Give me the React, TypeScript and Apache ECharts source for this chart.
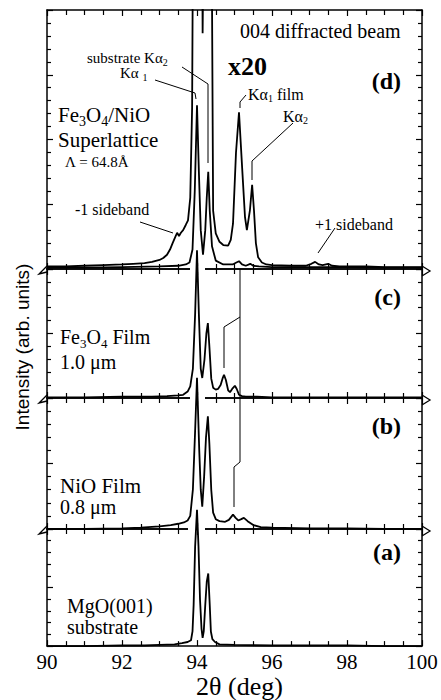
import React, { useEffect, useRef } from 'react';
import * as echarts from 'echarts';

// ---- axis ----
const X_MIN = 90;
const X_MAX = 100;
const X_STEP = 2;

// ---- panel (d): Fe3O4/NiO superlattice, raw scan ----
const dRawX = [90, 91, 92, 93, 93.5, 93.7, 93.8, 93.88, 93.94, 94.0, 94.05, 94.1, 94.16, 94.22, 94.26, 94.3, 94.34, 94.4, 94.5, 94.7, 94.95, 95.05, 95.12, 95.2, 95.3, 95.42, 95.5, 95.65, 96.0, 97.0, 98.0, 99.0, 100];
const dRawY = [0.02, 0.02, 0.03, 0.04, 0.05, 0.07, 0.1, 0.3, 1.2, 2.53, 1.5, 0.6, 0.22, 0.6, 1.1, 1.5, 0.9, 0.35, 0.13, 0.07, 0.07, 0.1, 0.12, 0.07, 0.05, 0.08, 0.05, 0.04, 0.03, 0.03, 0.03, 0.02, 0.02];

// ---- panel (d): same scan magnified x20 ----
const dX20X = [90, 90.5, 91, 91.5, 92, 92.3, 92.6, 92.8, 93.0, 93.1, 93.2, 93.28, 93.35, 93.41, 93.47, 93.52, 93.57, 93.63, 93.7, 93.76, 93.82, 93.87, 93.9, 94.0, 94.08, 94.15, 94.22, 94.3, 94.36, 94.4, 94.43, 94.5, 94.6, 94.7, 94.83, 94.9, 94.96, 95.04, 95.12, 95.2, 95.28, 95.33, 95.41, 95.47, 95.52, 95.57, 95.63, 95.73, 95.85, 96.0, 96.5, 96.9, 97.05, 97.15, 97.25, 97.35, 97.5, 97.6, 97.8, 98.5, 99, 99.5, 100];
const dX20Y = [0.04, 0.04, 0.05, 0.06, 0.07, 0.08, 0.09, 0.11, 0.14, 0.17, 0.22, 0.3, 0.4, 0.48, 0.56, 0.51, 0.56, 0.6, 0.68, 0.75, 1.1, 2.5, 6, 40, 12, 3.64, 8, 25, 8, 4.2, 0.9, 0.55, 0.42, 0.37, 0.36, 0.45, 0.7, 1.8, 2.42, 1.6, 0.8, 0.6, 0.9, 1.3, 0.9, 0.4, 0.18, 0.1, 0.07, 0.06, 0.05, 0.05, 0.08, 0.11, 0.07, 0.06, 0.08, 0.05, 0.04, 0.04, 0.03, 0.03, 0.03];

// ---- panel (c): Fe3O4 film 1.0 um ----
const cX = [90, 91, 92, 92.8, 93.2, 93.5, 93.63, 93.75, 93.82, 93.89, 93.95, 94.0, 94.05, 94.1, 94.14, 94.2, 94.25, 94.29, 94.33, 94.38, 94.43, 94.5, 94.56, 94.63, 94.68, 94.72, 94.77, 94.83, 94.88, 94.95, 95.01, 95.06, 95.12, 95.2, 95.3, 95.6, 96, 97, 98, 99, 100];
const cY = [0.01, 0.01, 0.02, 0.02, 0.03, 0.04, 0.05, 0.1, 0.18, 0.45, 1.3, 2.29, 1.3, 0.45, 0.31, 0.6, 1.0, 1.16, 0.8, 0.3, 0.16, 0.13, 0.14, 0.2, 0.3, 0.36, 0.28, 0.12, 0.09, 0.15, 0.19, 0.14, 0.05, 0.03, 0.02, 0.02, 0.01, 0.01, 0.01, 0.01, 0.01];

// ---- panel (b): NiO film 0.8 um ----
const bX = [90, 91, 92, 92.5, 93, 93.3, 93.5, 93.65, 93.75, 93.82, 93.89, 93.95, 94.0, 94.06, 94.1, 94.14, 94.19, 94.24, 94.29, 94.33, 94.38, 94.43, 94.5, 94.6, 94.75, 94.85, 94.96, 95.03, 95.1, 95.18, 95.25, 95.35, 95.5, 95.7, 96, 97, 98, 99, 100];
const bY = [0.0, 0.0, 0.01, 0.02, 0.04, 0.06, 0.08, 0.1, 0.13, 0.2, 0.6, 1.5, 2.31, 1.2, 0.6, 0.34, 0.8, 1.4, 1.72, 1.3, 0.6, 0.25, 0.15, 0.12, 0.11, 0.14, 0.22, 0.17, 0.13, 0.15, 0.17, 0.12, 0.06, 0.03, 0.02, 0.01, 0.01, 0.0, 0.0];

// ---- panel (a): MgO(001) substrate ----
const aX = [90, 91, 92, 92.6, 93.0, 93.4, 93.6, 93.75, 93.84, 93.88, 93.91, 93.95, 94.0, 94.04, 94.08, 94.12, 94.15, 94.18, 94.22, 94.26, 94.3, 94.34, 94.37, 94.41, 94.48, 94.6, 95, 96, 97, 98, 99, 100];
const aY = [0.0, 0.0, 0.01, 0.01, 0.02, 0.03, 0.05, 0.07, 0.1, 0.25, 0.7, 1.7, 2.33, 1.7, 0.8, 0.3, 0.14, 0.25, 0.7, 1.1, 1.24, 0.7, 0.25, 0.12, 0.07, 0.03, 0.02, 0.01, 0.01, 0.01, 0.0, 0.0];

const SERIF = 'Liberation Serif, Times New Roman, Times, serif';
const SANS = 'Liberation Sans, Arial, Helvetica, sans-serif';

// layout
const PL = 47;
const PR = 422;
const PANELS = [
  { top: 10, height: 259, yMax: 4 },
  { top: 269, height: 129, yMax: 2 },
  { top: 398, height: 131, yMax: 2 },
  { top: 529, height: 126, yMax: 2 },
];

const zip = (xs: number[], ys: number[]) => xs.map((x, i) => [x, ys[i]]);

function buildOption() {
  const grid = PANELS.map((p) => ({ left: PL, width: PR - PL, top: p.top, height: p.height }));
  const tickStyle = { color: '#000', width: 1.2 };
  const lineStyle = { color: '#000', width: 1.5 };
  const xAxis: any[] = [];
  const yAxis: any[] = [];
  PANELS.forEach((p, g) => {
    const last = g === PANELS.length - 1;
    ['bottom', 'top'].forEach((pos) => {
      xAxis.push({
        type: 'value',
        gridIndex: g,
        position: pos,
        min: X_MIN,
        max: X_MAX,
        interval: X_STEP,
        axisLine: { show: true, onZero: false, lineStyle },
        axisTick: { show: true, inside: true, length: 6, lineStyle: tickStyle },
        minorTick: { show: true, splitNumber: 4, length: 5, lineStyle: tickStyle },
        splitLine: { show: false },
        minorSplitLine: { show: false },
        axisLabel: {
          show: last && pos === 'bottom',
          color: '#000',
          fontFamily: SERIF,
          fontSize: 21,
          margin: 5,
        },
        name: last && pos === 'bottom' ? '2θ (deg)' : '',
        nameLocation: 'middle',
        nameGap: 21,
        nameTextStyle: { color: '#000', fontFamily: SERIF, fontSize: 26, padding: [0, 0, 0, 10] },
      });
    });
    ['left', 'right'].forEach((pos) => {
      yAxis.push({
        type: 'value',
        gridIndex: g,
        position: pos,
        min: 0,
        max: p.yMax,
        interval: 1,
        axisLine: { show: true, onZero: false, lineStyle },
        axisTick: { show: true, inside: true, length: 6, lineStyle: tickStyle },
        minorTick: { show: true, splitNumber: 5, length: 4, lineStyle: tickStyle },
        splitLine: { show: false },
        minorSplitLine: { show: false },
        axisLabel: { show: false },
      });
    });
  });

  const curve = (data: number[][], g: number, clip: boolean, name: string) => ({
    type: 'line',
    name,
    xAxisIndex: g * 2,
    yAxisIndex: g * 2,
    data,
    showSymbol: false,
    symbol: 'none',
    clip,
    z: 3,
    lineStyle: { color: '#000', width: 1.8 },
  });

  const series = [
    curve(zip(dRawX, dRawY), 0, true, 'superlattice'),
    curve(zip(dX20X, dX20Y), 0, true, 'superlattice x20'),
    curve(zip(cX, cY), 1, false, 'Fe3O4 film'),
    curve(zip(bX, bY), 2, false, 'NiO film'),
    curve(zip(aX, aY), 3, false, 'MgO substrate'),
  ];

  const txt = (x: number, y: number, text: string, size: number, opts: any = {}) => ({
    type: 'text',
    x,
    y,
    z: 10,
    style: {
      text,
      fill: '#000',
      fontSize: size,
      fontFamily: opts.family || SERIF,
      fontWeight: opts.bold ? 'bold' : 'normal',
      textAlign: opts.align || 'left',
      align: opts.align || 'left',
      textVerticalAlign: 'middle',
      verticalAlign: 'middle',
      rich: opts.rich,
    },
  });
  const sub = (size: number, lh: number) => ({
    n: { fontSize: size, fontFamily: SERIF, lineHeight: lh, color: '#000' },
    s: { fontSize: Math.round(size * 0.65), fontFamily: SERIF, lineHeight: Math.round(size * 0.5), verticalAlign: 'bottom', color: '#000' },
  });
  const poly = (pts: number[][], w = 1) => ({
    type: 'polyline',
    z: 10,
    shape: { points: pts },
    style: { stroke: '#000', lineWidth: w, fill: null },
  });
  const mask = (x: number, y: number, w: number) => ({
    type: 'rect',
    z: 1,
    shape: { x, y: y - 3, width: w, height: 6 },
    style: { fill: '#fff' },
  });

  const graphic: any[] = [
    // masks where peaks pierce the panel boundaries
    mask(190, 269, 15),
    mask(190, 398, 15),
    mask(188, 529, 17),
    // axis breaks
    ...[269, 398, 529].flatMap((b) => [
      poly([[PL, b - 3], [PL - 8, b + 5], [PL, b + 3]], 1.3),
      poly([[PR, b - 3], [PR + 8, b + 2], [PR, b + 7]], 1.3),
    ]),
    // texts
    txt(240, 31, '004 diffracted beam', 20),
    txt(228, 66, 'x20', 26, { bold: true }),
    txt(401, 80.5, '(d)', 24, { bold: true, align: 'right' }),
    txt(401, 297, '(c)', 24, { bold: true, align: 'right' }),
    txt(401, 425.5, '(b)', 24, { bold: true, align: 'right' }),
    txt(401, 552, '(a)', 24, { bold: true, align: 'right' }),
    txt(87, 58, '{n|substrate Kα}{s|2}', 15, { rich: sub(15, 18) }),
    txt(120, 73, '{n|Kα }{s|1}', 15, { rich: sub(15, 18) }),
    txt(248, 94, '{n|Kα}{s|1}{n| film}', 16, { rich: sub(16, 19) }),
    txt(283, 116, '{n|Kα}{s|2}', 16, { rich: sub(16, 19) }),
    txt(58, 115, '{n|Fe}{s|3}{n|O}{s|4}{n|/NiO}', 21, { rich: sub(21, 26) }),
    txt(58, 140, 'Superlattice', 21),
    txt(65, 162, 'Λ = 64.8Å', 15),
    txt(75, 209.5, '-1 sideband', 16),
    txt(315, 224.5, '+1 sideband', 16),
    txt(60, 337, '{n|Fe}{s|3}{n|O}{s|4}{n| Film}', 20, { rich: sub(20, 25) }),
    txt(60, 362, '1.0 μm', 20),
    txt(60, 486, 'NiO Film', 21),
    txt(60, 507, '0.8 μm', 20),
    txt(67, 606, 'MgO(001)', 20),
    txt(67, 627, 'substrate', 20),
    {
      type: 'text',
      x: 22,
      y: 347,
      rotation: Math.PI / 2,
      z: 10,
      style: {
        text: 'Intensity (arb. units)',
        fill: '#000',
        fontSize: 19,
        fontFamily: SANS,
        textAlign: 'center',
        align: 'center',
        textVerticalAlign: 'middle',
        verticalAlign: 'middle',
      },
    },
    // leader lines
    poly([[155, 80], [195, 93], [196, 99]]),
    poly([[182, 67], [208, 84], [208, 163]]),
    poly([[246, 95], [240, 102], [240, 108]]),
    poly([[293, 123], [252, 161], [252, 180]]),
    poly([[140, 222], [173, 233]]),
    poly([[335, 228], [318, 253]]),
    poly([[240, 269], [240, 462], [234, 467], [234, 507]]),
    poly([[240, 317], [224, 327], [224, 368]]),
  ];

  return {
    animation: false,
    backgroundColor: '#fff',
    grid,
    xAxis,
    yAxis,
    series,
    graphic,
  };
}

export default function App() {
  const ref = useRef<HTMLDivElement>(null);
  useEffect(() => {
    if (!ref.current) return;
    const chart = echarts.init(ref.current, null, { renderer: 'svg' });
    chart.setOption(buildOption() as any);
    return () => chart.dispose();
  }, []);
  return <div ref={ref} style={{ position: 'absolute', left: 0, top: 0, width: 441, height: 700 }} />;
}
